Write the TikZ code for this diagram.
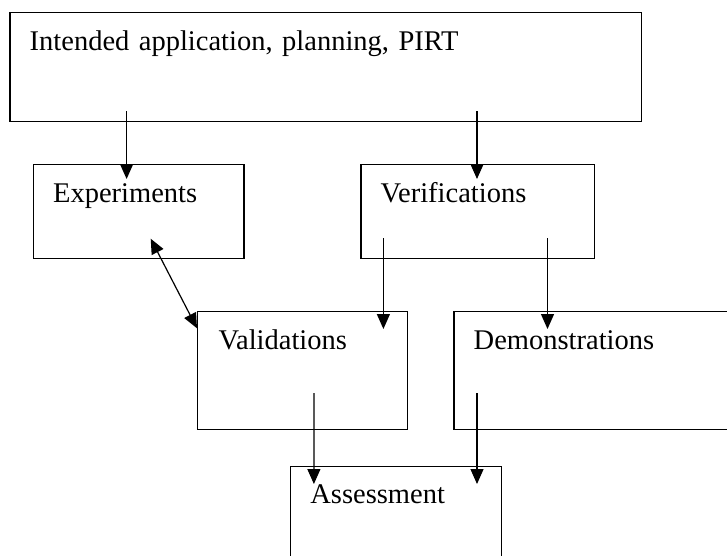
\documentclass[tikz,border=0pt]{standalone}
\usepackage{fontspec}
\setmainfont{Liberation Serif}
\usetikzlibrary{arrows.meta,positioning}
\tikzset{
    blk/.style={
        draw,line width=1.4pt,anchor=north west,align=left,
        inner ysep=0pt,inner xsep=#1,
        font=\fontsize{28.5}{32}\selectfont
    },
    blk/.default=20pt,
    arrow/.style={
        -{Triangle[length=15pt,width=13pt]},line width=1.2pt
    },
    twoway/.style={
        {Triangle[length=15pt,width=13pt]}-{Triangle[length=15pt,width=13pt]},line width=1.2pt
    }
}

\begin{document}
\begin{tikzpicture}[x=1pt,y=-1pt]
\clip (0,0) rectangle (727,555);

\node[blk=19.7pt,text width=592.3pt,text height=37.6pt,text depth=71.4pt]
(plan) at (9.3,11.7) {Intended application, planning, PIRT};

\node[blk=19.9pt,text width=171.1pt,text height=37.7pt,text depth=56.3pt]
(exp) at (32.5,164) {Experiments};
\node[blk=19.8pt,text width=194.2pt,text height=37.7pt,text depth=56.3pt]
(ver) at (360.2,164) {Verifications};

\node[blk=21pt,text width=168pt,text height=38pt,text depth=79.7pt]
(val) at (197,311) {Validations};
\node[blk=19.6pt,text width=267.4pt,text height=38pt,text depth=79.7pt]
(dem) at (453.4,311) {Demonstrations};

\node[blk=19.9pt,text width=171.1pt,text height=36.7pt,text depth=77.3pt]
(ass) at (289.8,466) {Assessment};

\draw[arrow] ([xshift=117.3pt,yshift=10.7pt]plan.south west) -- ([xshift=94.1pt,yshift=-15pt]exp.north west);
\draw[arrow] ([xshift=467.7pt,yshift=10.7pt]plan.south west) -- ([xshift=116.8pt,yshift=-15pt]ver.north west);
\draw[arrow] ([xshift=23.2pt,yshift=21pt]ver.south west) -- ([xshift=186.4pt,yshift=-18pt]val.north west);
\draw[arrow] ([xshift=187.3pt,yshift=21pt]ver.south west) -- ([xshift=94.1pt,yshift=-18pt]dem.north west);
\draw[arrow] ([xshift=116.9pt,yshift=37pt]val.south west) -- ([xshift=24.1pt,yshift=-18pt]ass.north west);
\draw[arrow] ([xshift=23.6pt,yshift=37pt]dem.south west) -- ([xshift=187.2pt,yshift=-18pt]ass.north west);
\draw[twoway] ([xshift=118.2pt,yshift=20.7pt]exp.south west) -- ([yshift=-17.3pt]val.north west);

\end{tikzpicture}
\end{document}
